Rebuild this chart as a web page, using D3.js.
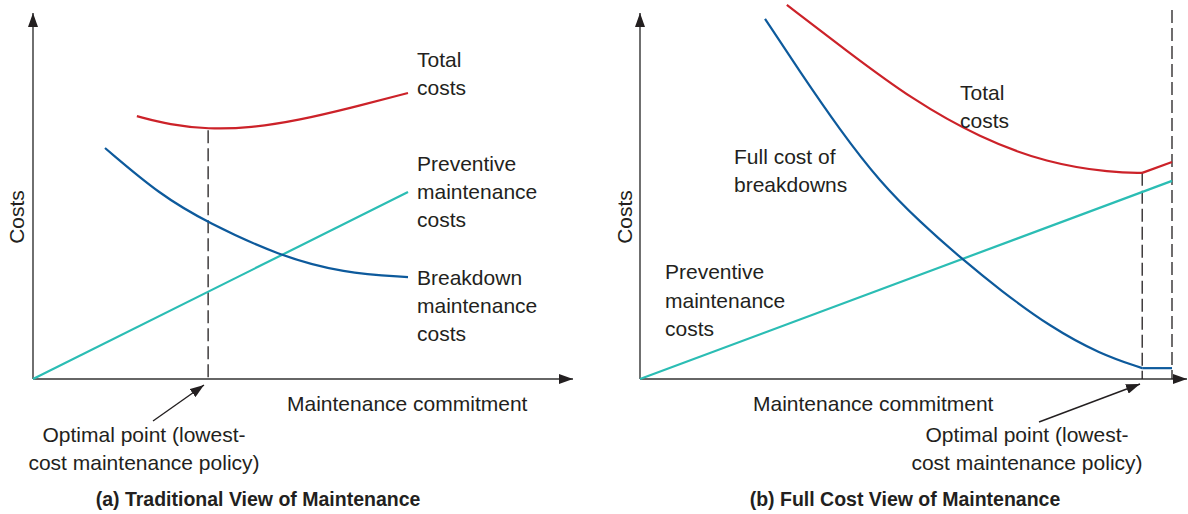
<!DOCTYPE html>
<html>
<head>
<meta charset="utf-8">
<script src="https://cdn.jsdelivr.net/npm/d3@7/dist/d3.min.js"></script>
<style>
body{margin:0;background:#fff}
text{font-family:"Liberation Sans",Arial,Helvetica,sans-serif;fill:#231f20}
</style>
</head>
<body>
<svg id="chart" width="1188" height="514"></svg>
<script>
// (a) traditional view  -- x = maintenance commitment, y = costs (relative units)
var prevA  = [[0,0],[10,5.34]];
var breakA = [[1.92,6.6],[3.39,5.26],[4.67,4.46],[6.59,3.51],[8.27,3.03],[10,2.91]];
var totalA = [[2.77,7.51],[3.65,7.26],[4.67,7.14],[5.79,7.17],[7.12,7.4],[8.45,7.74],[10,8.17]];
var optA = 4.67;

// (b) full cost view
var prevB  = [[0,0],[10,5.66]];
var breakB = [[2.35,10.29],[3.01,8.77],[3.76,7.11],[4.51,5.63],[5.26,4.49],[6.05,3.43],[6.77,2.54],[7.71,1.49],[8.65,0.71],[9.44,0.31],[10,0.31]];
var totalB = [[2.76,10.69],[3.89,9.37],[5.13,7.97],[6.39,6.89],[7.65,6.17],[8.89,5.89],[9.44,5.89],[10,6.2]];
var optB = 9.44, limitB = 10;

var labelsA = {total:["Total","costs"], prev:["Preventive","maintenance","costs"], brk:["Breakdown","maintenance","costs"]};
var labelsB = {total:["Total","costs"], brk:["Full cost of","breakdowns"], prev:["Preventive","maintenance","costs"]};
var optText = ["Optimal point (lowest-","cost maintenance policy)"];

var RED = "#cc2229", BLUE = "#0d5a9c", CYAN = "#2bbdb4", INK = "#333";

var svg = d3.select("#chart");

var defs = svg.append("defs");
defs.append("marker").attr("id","arr")
  .attr("markerUnits","userSpaceOnUse")
  .attr("markerWidth",15).attr("markerHeight",10)
  .attr("refX",14).attr("refY",5).attr("orient","auto")
  .append("path").attr("d","M0,0L14,5L0,10Z").attr("fill","#231f20");

function multiText(g, lines, x, y, lh, anchor){
  var t = g.append("text").attr("x",x).attr("y",y).attr("font-size",21)
    .attr("text-anchor",anchor || "start");
  lines.forEach(function(s,i){
    t.append("tspan").attr("x",x).attr("y",y + i*lh).text(s);
  });
  return t;
}

function valueAt(data, xv){
  var p = data.find(function(d){return d[0] === xv;});
  return p ? p[1] : null;
}

function panel(o){
  var g = svg.append("g");
  var x = d3.scaleLinear().domain([0,10]).range([o.x0, o.x1]);
  var y = d3.scaleLinear().domain([0,10]).range([379, 29]);

  // axes
  g.append("line").attr("x1",x(0)).attr("y1",y(0)).attr("x2",x(0)).attr("y2",13)
    .attr("stroke",INK).attr("stroke-width",1.4).attr("marker-end","url(#arr)");
  g.append("line").attr("x1",x(0)).attr("y1",y(0)).attr("x2",o.xTip).attr("y2",y(0))
    .attr("stroke",INK).attr("stroke-width",1.4).attr("marker-end","url(#arr)");

  var smooth = d3.line().x(function(d){return x(d[0]);}).y(function(d){return y(d[1]);}).curve(d3.curveBasis);
  var straight = d3.line().x(function(d){return x(d[0]);}).y(function(d){return y(d[1]);});

  function series(data, color, cut){
    var a = cut == null ? data : data.filter(function(d){return d[0] <= cut;});
    g.append("path").attr("d",smooth(a)).attr("fill","none").attr("stroke",color).attr("stroke-width",2.2);
    if(cut != null){
      var b = data.filter(function(d){return d[0] >= cut;});
      g.append("path").attr("d",straight(b)).attr("fill","none").attr("stroke",color).attr("stroke-width",2.2);
    }
  }

  // dashed guides
  o.guides.forEach(function(gd){
    g.append("line").attr("x1",x(gd.x)).attr("x2",x(gd.x)).attr("y1",gd.top == null ? 10 : y(gd.top)).attr("y2",y(0))
      .attr("stroke","#231f20").attr("stroke-width",1.3).attr("stroke-dasharray","13,5");
  });

  series(o.prev, CYAN);
  series(o.brk, BLUE, o.cut);
  series(o.total, RED, o.cut);

  // axis titles
  g.append("text").attr("transform","translate(" + o.costX + ",217) rotate(-90)")
    .attr("text-anchor","middle").attr("font-size",21).text("Costs");
  g.append("text").attr("x",o.commitX).attr("y",411).attr("font-size",21).text("Maintenance commitment");

  // optimal point note + arrow
  multiText(g, optText, o.noteX, 442, 28, "middle");
  g.append("line").attr("x1",o.arrow[0]).attr("y1",o.arrow[1]).attr("x2",o.arrow[2]).attr("y2",o.arrow[3])
    .attr("stroke","#231f20").attr("stroke-width",1.4).attr("marker-end","url(#arr)");

  // panel caption
  g.append("text").attr("x",o.capX).attr("y",506).attr("text-anchor","middle")
    .attr("font-size",19.5).attr("font-weight","bold").text(o.caption);

  o.labels(g);
}

panel({
  x0:33, x1:408, xTip:573,
  prev:prevA, brk:breakA, total:totalA, cut:null,
  guides:[{x:optA, top:valueAt(totalA, optA) - 0.03}],
  costX:24, commitX:287, noteX:144, arrow:[153,421,204,385], capX:258,
  caption:"(a) Traditional View of Maintenance",
  labels:function(g){
    multiText(g, labelsA.total, 417, 67, 28);
    multiText(g, labelsA.prev, 417, 171, 28);
    multiText(g, labelsA.brk, 417, 285, 28);
  }
});

panel({
  x0:640, x1:1172, xTip:1187,
  prev:prevB, brk:breakB, total:totalB, cut:optB,
  guides:[{x:optB, top:valueAt(totalB, optB)},{x:limitB}],
  costX:632, commitX:753, noteX:1027, arrow:[1039,422,1140,384], capX:905,
  caption:"(b) Full Cost View of Maintenance",
  labels:function(g){
    multiText(g, labelsB.total, 960, 100, 28);
    multiText(g, labelsB.brk, 734, 164, 28);
    multiText(g, labelsB.prev, 665, 279, 28.5);
  }
});
</script>
</body>
</html>
